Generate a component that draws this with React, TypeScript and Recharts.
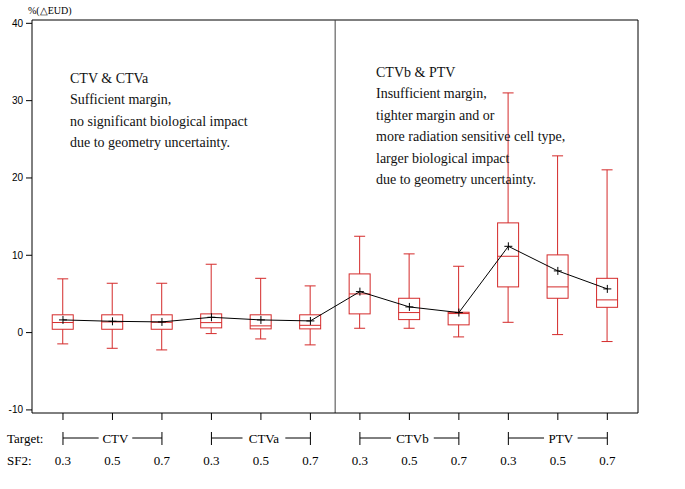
import React from "react";
import { ComposedChart, Bar, Line, XAxis, YAxis, ReferenceLine } from "recharts";

// ---- data ----
const targets = ["CTV", "CTVa", "CTVb", "PTV"];
const sf2Labels = ["0.3", "0.5", "0.7"];
const whiskerMin = [-1.46, -2.03, -2.24, -0.13, -0.82, -1.59, 0.56, 0.56, -0.56, 1.33, -0.26, -1.16];
const q1Values = [0.43, 0.43, 0.43, 0.61, 0.48, 0.48, 2.42, 1.68, 1.0, 5.91, 4.44, 3.27];
const medianValues = [1.3, 1.38, 1.33, 1.29, 0.87, 0.94, 5.0, 2.59, 2.46, 9.87, 5.91, 4.23];
const q3Values = [2.3, 2.3, 2.3, 2.42, 2.3, 2.3, 7.59, 4.44, 2.63, 14.19, 10.05, 7.02];
const whiskerMax = [6.95, 6.38, 6.38, 8.84, 7.02, 6.04, 12.46, 10.18, 8.58, 31.0, 22.86, 21.05];
const meanValues = [1.64, 1.46, 1.38, 1.98, 1.64, 1.51, 5.3, 3.32, 2.59, 11.16, 7.98, 5.65];
const yTicks = [-10, 0, 10, 20, 30, 40];
const leftNote = ["CTV & CTVa", "Sufficient margin,", "no significant biological impact", "due to geometry uncertainty."];
const rightNote = [
  "CTVb & PTV",
  "Insufficient margin,",
  "tighter margin and or",
  "more radiation sensitive cell type,",
  "larger biological impact",
  "due to geometry uncertainty.",
];

const data = q1Values.map((q1, i) => ({
  idx: i,
  box: [q1, q3Values[i]],
  q1,
  q3: q3Values[i],
  med: medianValues[i],
  lo: whiskerMin[i],
  hi: whiskerMax[i],
  mean: meanValues[i],
  sf2: sf2Labels[i % 3],
}));

// ---- layout ----
const W = 685;
const H = 489;
const margin = { top: 20, right: 47, left: 4, bottom: 0 };
const Y_AXIS_W = 28;
const X_AXIS_H = 76;
const X_DOMAIN: [number, number] = [-0.626, 11.62];
const Y_DOMAIN: [number, number] = [-10.4, 40.43];
const plotW = W - margin.left - margin.right - Y_AXIS_W;
const STEP = plotW / (X_DOMAIN[1] - X_DOMAIN[0]);
const RED = "#d42a2a";
const SERIF = "'Liberation Serif', 'Times New Roman', serif";
const SANS = "'Liberation Sans', Arial, sans-serif";
const ROW_TARGET = 438;
const ROW_SF2 = 460;

const BoxShape = (props: any) => {
  const { x, y, width, height, payload } = props;
  if (payload == null || height == null) return null;
  const top = Math.min(y, y + height);
  const h = Math.abs(height);
  const k = h / (payload.q3 - payload.q1);
  const cx = x + width / 2;
  const yMed = top + (payload.q3 - payload.med) * k;
  const yHi = top - (payload.hi - payload.q3) * k;
  const yLo = top + h + (payload.q1 - payload.lo) * k;
  const cap = 5.5;
  return (
    <g stroke={RED} strokeWidth={1} fill="none">
      <rect x={x} y={top} width={width} height={h} />
      <line x1={x} x2={x + width} y1={yMed} y2={yMed} />
      <line x1={cx} x2={cx} y1={yHi} y2={top} />
      <line x1={cx} x2={cx} y1={top + h} y2={yLo} />
      <line x1={cx - cap} x2={cx + cap} y1={yHi} y2={yHi} />
      <line x1={cx - cap} x2={cx + cap} y1={yLo} y2={yLo} />
    </g>
  );
};

const CrossDot = (props: any) => {
  const { cx, cy } = props;
  if (cx == null || cy == null) return null;
  return (
    <g stroke="#000" strokeWidth={1}>
      <line x1={cx - 4} x2={cx + 4} y1={cy} y2={cy} />
      <line x1={cx} x2={cx} y1={cy - 4} y2={cy + 4} />
    </g>
  );
};

const XTick = (props: any) => {
  const { x, payload } = props;
  const i = Math.round(payload.value);
  const items: React.ReactNode[] = [];
  if (i === 0) {
    items.push(
      <text key="t" x={7} y={ROW_TARGET} dominantBaseline="central" fontFamily={SERIF} fontSize={13} fill="#000">
        Target:
      </text>
    );
    items.push(
      <text key="s" x={7} y={ROW_SF2} dominantBaseline="central" fontFamily={SERIF} fontSize={13} fill="#000">
        SF2:
      </text>
    );
  }
  items.push(
    <text key="v" x={x} y={ROW_SF2} textAnchor="middle" dominantBaseline="central" fontFamily={SERIF} fontSize={13} fill="#000">
      {data[i] ? data[i].sf2 : ""}
    </text>
  );
  if (i % 3 === 1) {
    const label = targets[(i - 1) / 3];
    const hw = label.length * 4.6 + 3;
    const lc = x + 3;
    items.push(
      <g key="b" stroke="#000" strokeWidth={1}>
        <line x1={x - STEP} x2={lc - hw} y1={ROW_TARGET} y2={ROW_TARGET} />
        <line x1={lc + hw} x2={x + STEP} y1={ROW_TARGET} y2={ROW_TARGET} />
        <line x1={x - STEP} x2={x - STEP} y1={ROW_TARGET - 6} y2={ROW_TARGET + 7} />
        <line x1={x + STEP} x2={x + STEP} y1={ROW_TARGET - 6} y2={ROW_TARGET + 7} />
      </g>
    );
    items.push(
      <text key="l" x={lc} y={ROW_TARGET} textAnchor="middle" dominantBaseline="central" fontFamily={SERIF} fontSize={13} fill="#000">
        {label}
      </text>
    );
  }
  return <g>{items}</g>;
};

const YTick = (props: any) => {
  const { x, y, payload } = props;
  return (
    <text x={x - 1} y={y} textAnchor="end" dominantBaseline="central" fontFamily={SANS} fontSize={10} fill="#000">
      {payload.value}
    </text>
  );
};

const noteStyle = (left: number, top: number): React.CSSProperties => ({
  position: "absolute",
  left,
  top,
  fontFamily: SERIF,
  fontSize: 14,
  lineHeight: "21.6px",
  color: "#111",
  whiteSpace: "nowrap",
  pointerEvents: "none",
});

export default function App() {
  return (
    <div style={{ position: "absolute", left: 0, top: 0, width: W, height: H, background: "#fff" }}>
      <ComposedChart width={W} height={H} data={data} margin={margin}>
        <XAxis
          dataKey="idx"
          type="number"
          domain={X_DOMAIN}
          allowDataOverflow
          ticks={[0, 1, 2, 3, 4, 5, 6, 7, 8, 9, 10, 11]}
          interval={0}
          height={X_AXIS_H}
          tickSize={7}
          tickLine={{ stroke: "#000" }}
          axisLine={{ stroke: "#000" }}
          tick={<XTick />}
        />
        <YAxis
          type="number"
          domain={Y_DOMAIN}
          allowDataOverflow
          ticks={yTicks}
          interval={0}
          width={Y_AXIS_W}
          tickSize={6}
          tickLine={{ stroke: "#000" }}
          axisLine={{ stroke: "#000" }}
          tick={<YTick />}
        />
        <ReferenceLine y={Y_DOMAIN[1]} stroke="#000" ifOverflow="visible" />
        <ReferenceLine x={X_DOMAIN[1]} stroke="#000" ifOverflow="visible" />
        <ReferenceLine x={5.5} stroke="#444" ifOverflow="visible" />
        <Bar dataKey="box" barSize={21} shape={<BoxShape />} isAnimationActive={false} />
        <Line
          dataKey="mean"
          type="linear"
          stroke="#000"
          strokeWidth={1}
          dot={<CrossDot />}
          activeDot={false}
          isAnimationActive={false}
        />
      </ComposedChart>
      <div style={{ position: "absolute", left: 28, top: 5, fontFamily: SERIF, fontSize: 10, color: "#000" }}>
        %(△EUD)
      </div>
      <div style={noteStyle(70, 67.5)}>
        {leftNote.map((t) => (
          <div key={t}>{t}</div>
        ))}
      </div>
      <div style={noteStyle(376, 61.5)}>
        {rightNote.map((t) => (
          <div key={t}>{t}</div>
        ))}
      </div>
    </div>
  );
}
